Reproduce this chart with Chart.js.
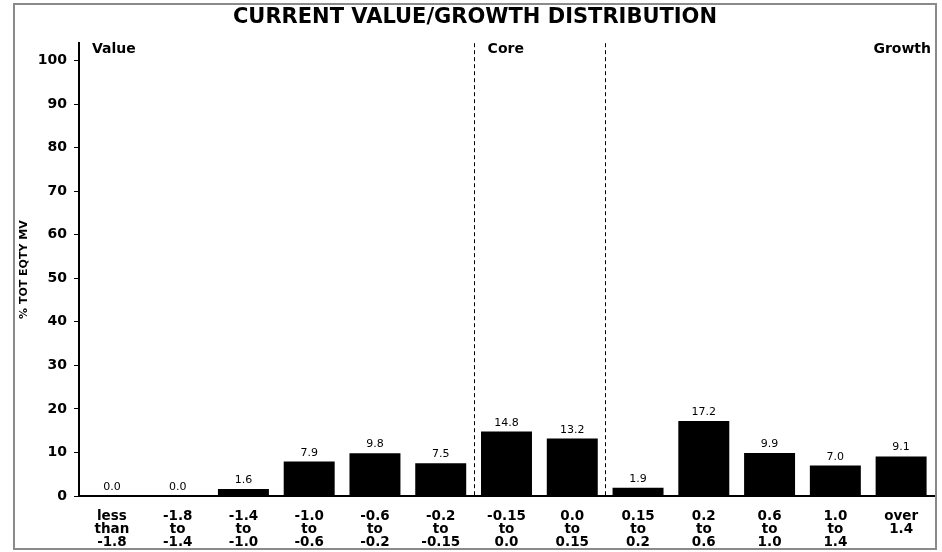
<!DOCTYPE html>
<html lang="en">
<head>
<meta charset="UTF-8">
<title>Current Value/Growth Distribution</title>
<script src="https://cdn.jsdelivr.net/npm/chart.js"></script>
<style>
  html, body { margin: 0; padding: 0; background: #fff; }
</style>
</head>
<body>

<canvas id="dist-chart" width="942" height="552"></canvas>

<script>
// data
var ranges = [
    ['less', 'than', '-1.8'], ['-1.8', 'to', '-1.4'], ['-1.4', 'to', '-1.0'],
    ['-1.0', 'to', '-0.6'], ['-0.6', 'to', '-0.2'], ['-0.2', 'to', '-0.15'],
    ['-0.15', 'to', '0.0'], ['0.0', 'to', '0.15'], ['0.15', 'to', '0.2'],
    ['0.2', 'to', '0.6'], ['0.6', 'to', '1.0'], ['1.0', 'to', '1.4'],
    ['over', '1.4']
];
var pctMv = [0.0, 0.0, 1.6, 7.9, 9.8, 7.5, 14.8, 13.2, 1.9, 17.2, 9.9, 7.0, 9.1];
var yTickValues = [0, 10, 20, 30, 40, 50, 60, 70, 80, 90, 100];
var sections = ['Value', 'Core', 'Growth'];
var coreFirst = 6, coreLast = 7; // categories inside the "Core" band

var FONT = "'DejaVu Sans', 'Liberation Sans', Arial, sans-serif";

Chart.defaults.color = '#000';
Chart.defaults.font.family = FONT;

// border, dashed core band, section names and bar values
var decoPlugin = {
    id: 'deco',
    beforeDraw: function(chart) {
        var ctx = chart.ctx;
        ctx.save();
        ctx.strokeStyle = '#8a8a8a';
        ctx.lineWidth = 2;
        ctx.strokeRect(14, 4, 922, 545);
        ctx.restore();
    },
    afterDatasetsDraw: function(chart) {
        var ctx = chart.ctx;
        var area = chart.chartArea;
        var x = chart.scales.x;
        ctx.save();

        // dashed lines around the core categories
        var bounds = [
            (x.getPixelForValue(coreFirst - 1) + x.getPixelForValue(coreFirst)) / 2,
            (x.getPixelForValue(coreLast) + x.getPixelForValue(coreLast + 1)) / 2
        ];
        ctx.strokeStyle = '#000';
        ctx.lineWidth = 1;
        ctx.setLineDash([4, 3]);
        bounds.forEach(function(bx) {
            bx = Math.round(bx) + 0.5;
            ctx.beginPath();
            ctx.moveTo(bx, area.top);
            ctx.lineTo(bx, area.bottom);
            ctx.stroke();
        });
        ctx.setLineDash([]);

        // section names
        ctx.fillStyle = '#000';
        ctx.font = 'bold 14px ' + FONT;
        ctx.textBaseline = 'alphabetic';
        ctx.textAlign = 'left';
        ctx.fillText(sections[0], area.left + 13, 53);
        ctx.fillText(sections[1], bounds[0] + 14, 53);
        ctx.textAlign = 'right';
        ctx.fillText(sections[2], area.right - 3, 53);

        // values above the bars
        ctx.font = '11px ' + FONT;
        ctx.textAlign = 'center';
        var meta = chart.getDatasetMeta(0);
        meta.data.forEach(function(bar, i) {
            ctx.fillText(pctMv[i].toFixed(1), bar.x, bar.y - 6);
        });
        ctx.restore();
    }
};

var ctx = document.getElementById('dist-chart').getContext('2d');
var chart = new Chart(ctx, {
    type: 'bar',
    data: {
        labels: ranges,
        datasets: [{
            data: pctMv,
            backgroundColor: '#000',
            borderWidth: 0,
            categoryPercentage: 0.775,
            barPercentage: 1.0
        }]
    },
    options: {
        responsive: false,
        animation: false,
        layout: { padding: { top: 0, left: 16, right: 8, bottom: 0 } },
        plugins: {
            legend: { display: false },
            tooltip: { enabled: false },
            title: {
                display: true,
                text: 'CURRENT VALUE/GROWTH DISTRIBUTION',
                color: '#000',
                font: { size: 21, weight: 'bold', family: FONT, lineHeight: 1.2 },
                padding: { top: 5, bottom: 13 }
            }
        },
        scales: {
            x: {
                grid: { display: false },
                border: { display: true, color: '#000', width: 2 },
                ticks: {
                    padding: 6,
                    autoSkip: false,
                    maxRotation: 0,
                    font: { size: 13.5, weight: 'bold', family: FONT, lineHeight: 0.97 }
                },
                afterFit: function(scale) { scale.height = 56; }
            },
            y: {
                min: 0,
                max: 104,
                afterBuildTicks: function(scale) {
                    scale.ticks = yTickValues.map(function(v) { return { value: v }; });
                },
                grid: {
                    drawOnChartArea: false,
                    drawTicks: true,
                    tickLength: 5,
                    color: '#000',
                    lineWidth: 1
                },
                border: { display: true, color: '#000', width: 2 },
                ticks: {
                    padding: 7,
                    font: { size: 14, weight: 'bold', family: FONT }
                },
                title: {
                    display: true,
                    text: '% TOT EQTY MV',
                    color: '#000',
                    font: { size: 11, weight: 'bold', family: FONT },
                    padding: { top: 2, bottom: 0 }
                },
                afterFit: function(scale) { scale.width = 63; }
            }
        }
    },
    plugins: [decoPlugin]
});
</script>

</body>
</html>
